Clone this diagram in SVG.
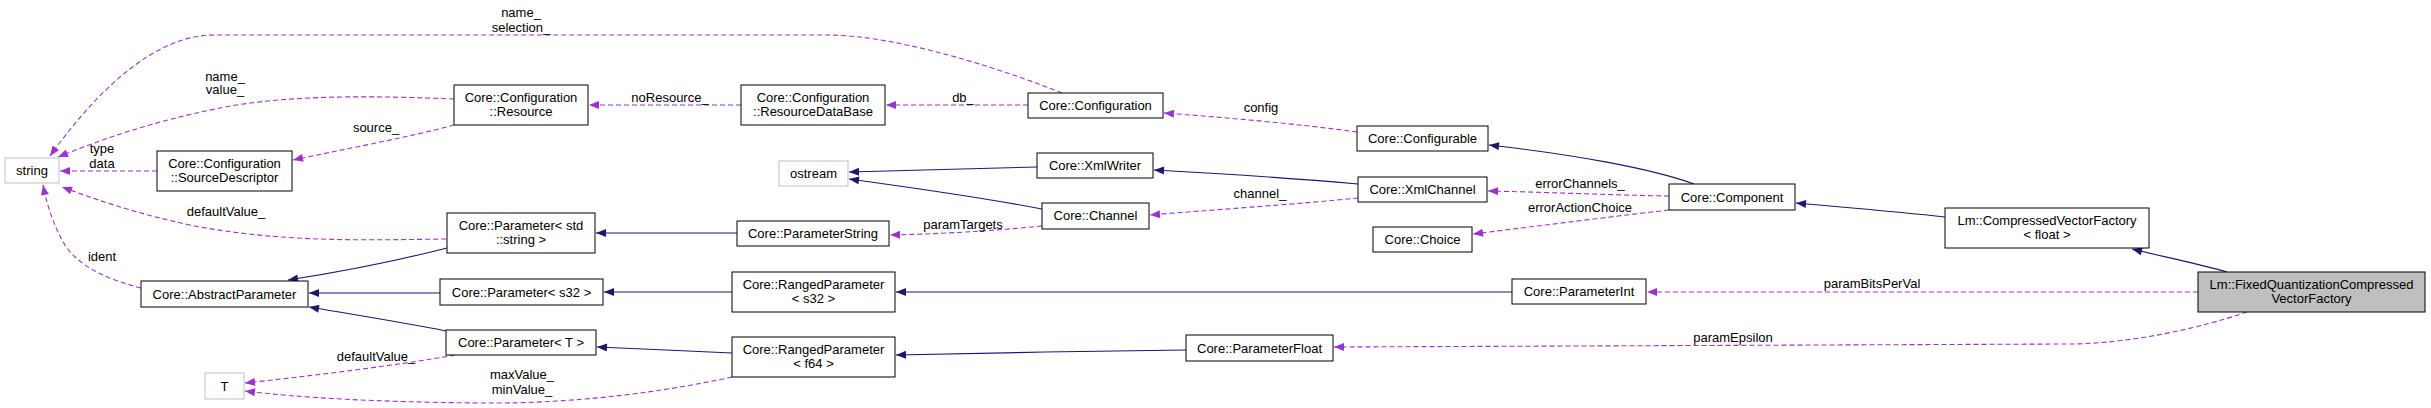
<svg xmlns="http://www.w3.org/2000/svg" width="2431" height="408" viewBox="0 0 2431 408">
<style>
text{font-family:"Liberation Sans",Arial,sans-serif;font-size:13px;fill:#000;text-anchor:middle}
.n rect{fill:#fff;stroke:#000;stroke-width:1}
.g rect{fill:#fff;stroke:#bfbfbf;stroke-width:1}
.inh{fill:none;stroke:#191970;stroke-width:1.1;marker-end:url(#ab)}
.use{fill:none;stroke:#9a32cd;stroke-width:1.1;stroke-dasharray:5,3;marker-end:url(#ap)}
</style>
<defs>
<marker id="ab" viewBox="0 0 10 8" refX="10" refY="4" markerWidth="11" markerHeight="8" orient="auto" markerUnits="userSpaceOnUse"><path d="M0,0 L10,4 L0,8 z" fill="#191970"/></marker>
<marker id="ap" viewBox="0 0 10 8" refX="10" refY="4" markerWidth="11" markerHeight="8" orient="auto" markerUnits="userSpaceOnUse"><path d="M0,0 L10,4 L0,8 z" fill="#9a32cd"/></marker>
</defs>
<rect width="2431" height="408" fill="#fff"/>
<g id="connectors">
<path class="use" d="M1062,93 C1010,72 900,35 827,35 L214,35 C150,35 90,100 50,156"/>
<path class="use" d="M454,99 C380,96 290,94 220,108 C150,122 100,140 58,157"/>
<path class="use" d="M157,171 L60,171"/>
<path class="use" d="M454,125 C410,137 340,150 293,160"/>
<path class="use" d="M741,105 L589,105"/>
<path class="use" d="M1028,105 L886,105"/>
<path class="use" d="M1357,132 C1300,124 1220,117 1164,113"/>
<path class="use" d="M1358,198 C1300,204 1210,210 1150,215"/>
<path class="use" d="M1042,226 C990,231 940,234 890,235"/>
<path class="use" d="M1669,196 C1610,195 1540,192 1488,191"/>
<path class="use" d="M1669,210 C1600,218 1530,227 1473,234"/>
<path class="use" d="M446,239 C370,240 280,243 190,225 C130,212 95,199 62,187"/>
<path class="use" d="M141,288 C110,280 80,268 65,245 C55,228 48,210 43,185"/>
<path class="use" d="M455,355 C400,365 310,376 245,383"/>
<path class="use" d="M732,377 C650,395 560,404 480,403 C380,402 300,398 245,391"/>
<path class="use" d="M2198,292 L1647,292"/>
<path class="use" d="M2247,312 C2200,328 2130,344 2067,344 L1334,347"/>
<path class="inh" d="M1037,167 L849,172"/>
<path class="inh" d="M1042,209 C980,197 900,186 849,179"/>
<path class="inh" d="M1358,184 C1290,178 1210,173 1154,170"/>
<path class="inh" d="M1694,184 C1650,168 1570,154 1489,145"/>
<path class="inh" d="M1945,217 C1900,212 1840,207 1796,203"/>
<path class="inh" d="M2227,272 C2200,264 2160,256 2132,249"/>
<path class="inh" d="M737,233 L596,233"/>
<path class="inh" d="M447,248 C400,260 340,272 288,280"/>
<path class="inh" d="M440,293 L309,293"/>
<path class="inh" d="M446,331 C400,322 350,314 309,307"/>
<path class="inh" d="M732,292 L604,292"/>
<path class="inh" d="M732,353 C690,351 640,349 597,347"/>
<path class="inh" d="M1512,292 L896,292"/>
<path class="inh" d="M1186,350 C1100,351 980,353 896,355"/>
</g>
<g id="labels">
<text x="521" y="16.5">name_</text><text x="521" y="31.5">selection_</text>
<text x="225" y="80.5">name_</text><text x="225" y="93.5">value_</text>
<text x="376" y="131.5">source_</text>
<text x="102" y="152.5">type</text><text x="102" y="167.5">data</text>
<text x="670" y="101.5">noResource_</text>
<text x="963" y="101.5">db_</text>
<text x="1261" y="111.5">config</text>
<text x="1260" y="197.5">channel_</text>
<text x="1580" y="187.5">errorChannels_</text>
<text x="1580" y="211.5">errorActionChoice</text>
<text x="963" y="228.5">paramTargets</text>
<text x="226" y="215.5">defaultValue_</text>
<text x="102" y="260.5">ident</text>
<text x="376" y="360.5">defaultValue_</text>
<text x="522" y="378.5">maxValue_</text><text x="522" y="393.5">minValue_</text>
<text x="1872" y="287.5">paramBitsPerVal</text>
<text x="1733" y="341.5">paramEpsilon</text>
</g>
<g id="n_string" class="g"><rect x="5" y="158" width="54" height="25"/><text x="32" y="175">string</text></g>
<g id="n_sourcedesc" class="n"><rect x="157" y="151" width="135" height="40"/><text x="224.5" y="167.5">Core::Configuration</text><text x="224.5" y="181.5">::SourceDescriptor</text></g>
<g id="n_resource" class="n"><rect x="454" y="85" width="134" height="40"/><text x="521" y="101.5">Core::Configuration</text><text x="521" y="115.5">::Resource</text></g>
<g id="n_resourcedb" class="n"><rect x="741" y="85" width="144" height="40"/><text x="813" y="101.5">Core::Configuration</text><text x="813" y="115.5">::ResourceDataBase</text></g>
<g id="n_configuration" class="n"><rect x="1028" y="93" width="135" height="25"/><text x="1095.5" y="110">Core::Configuration</text></g>
<g id="n_configurable" class="n"><rect x="1357" y="126" width="131" height="25"/><text x="1422.5" y="143">Core::Configurable</text></g>
<g id="n_ostream" class="g"><rect x="779" y="161" width="69" height="25"/><text x="813.5" y="178">ostream</text></g>
<g id="n_xmlwriter" class="n"><rect x="1037" y="153" width="116" height="25"/><text x="1095" y="170">Core::XmlWriter</text></g>
<g id="n_xmlchannel" class="n"><rect x="1358" y="177" width="129" height="25"/><text x="1422.5" y="194">Core::XmlChannel</text></g>
<g id="n_channel" class="n"><rect x="1042" y="203" width="107" height="26"/><text x="1095.5" y="220">Core::Channel</text></g>
<g id="n_component" class="n"><rect x="1669" y="184" width="126" height="26"/><text x="1732" y="201.5">Core::Component</text></g>
<g id="n_choice" class="n"><rect x="1373" y="227" width="99" height="25"/><text x="1422.5" y="244">Core::Choice</text></g>
<g id="n_paramstring" class="n"><rect x="737" y="221" width="152" height="25"/><text x="813" y="238">Core::ParameterString</text></g>
<g id="n_param_stdstring" class="n"><rect x="447" y="213" width="148" height="40"/><text x="521" y="229.5">Core::Parameter&lt; std</text><text x="521" y="243.5">::string &gt;</text></g>
<g id="n_abstractparam" class="n"><rect x="141" y="281" width="167" height="26"/><text x="224.5" y="298.5">Core::AbstractParameter</text></g>
<g id="n_param_s32" class="n"><rect x="440" y="279" width="163" height="26"/><text x="521.5" y="296.5">Core::Parameter&lt; s32 &gt;</text></g>
<g id="n_param_T" class="n"><rect x="446" y="330" width="150" height="25"/><text x="521" y="347">Core::Parameter&lt; T &gt;</text></g>
<g id="n_T" class="g"><rect x="205" y="373" width="39" height="26"/><text x="224.5" y="390.5">T</text></g>
<g id="n_ranged_s32" class="n"><rect x="732" y="272" width="163" height="40"/><text x="813.5" y="288.5">Core::RangedParameter</text><text x="813.5" y="302.5">&lt; s32 &gt;</text></g>
<g id="n_ranged_f64" class="n"><rect x="732" y="337" width="163" height="40"/><text x="813.5" y="353.5">Core::RangedParameter</text><text x="813.5" y="367.5">&lt; f64 &gt;</text></g>
<g id="n_paramint" class="n"><rect x="1512" y="279" width="134" height="25"/><text x="1579" y="296">Core::ParameterInt</text></g>
<g id="n_paramfloat" class="n"><rect x="1186" y="335" width="147" height="26"/><text x="1259.5" y="352.5">Core::ParameterFloat</text></g>
<g id="n_cvf" class="n"><rect x="1945" y="208" width="204" height="40"/><text x="2047" y="224.5">Lm::CompressedVectorFactory</text><text x="2047" y="238.5">&lt; float &gt;</text></g>
<g id="n_fixed" class="n"><rect x="2198" y="272" width="227" height="40" style="fill:#bfbfbf"/><text x="2311.5" y="288.5">Lm::FixedQuantizationCompressed</text><text x="2311.5" y="302.5">VectorFactory</text></g>
</svg>
